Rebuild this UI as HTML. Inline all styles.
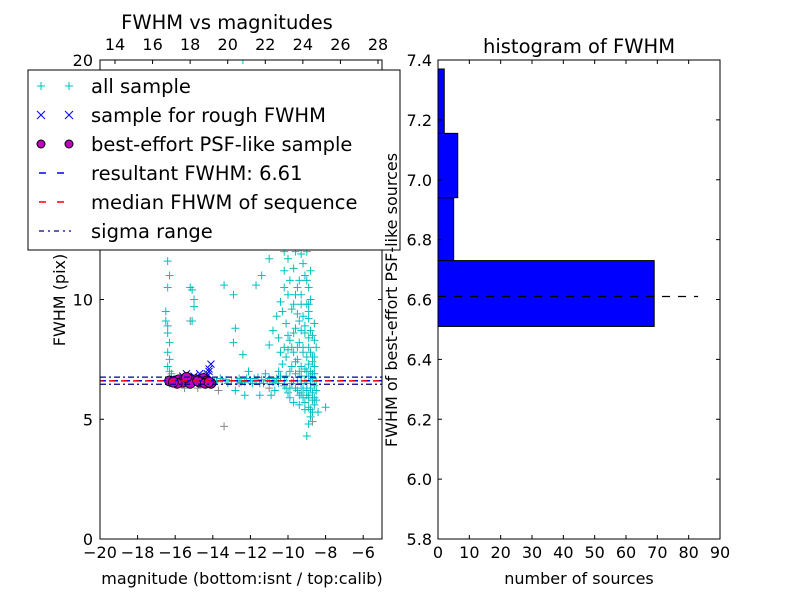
<!DOCTYPE html>
<html><head><meta charset="utf-8"><style>
body{margin:0;background:#fff;}
svg text{font-family:"DejaVu Sans","Liberation Sans",sans-serif;}
</style></head><body>
<svg id="c" width="800" height="600" xmlns="http://www.w3.org/2000/svg"></svg>
<script>
const allSample=[[-16.4,11.6],[-16.3,11.0],[-16.4,10.5],[-16.5,9.5],[-16.5,9.1],[-16.4,8.6],[-16.3,8.2],[-16.4,7.8],[-16.3,7.5],[-16.4,7.2],[-16.2,6.9],[-16.4,8.9],[-16.3,7.0],[-15.1,10.4],[-15.0,10.0],[-15.0,9.7],[-15.1,9.1],[-15.2,10.5],[-13.4,10.6],[-12.9,10.2],[-12.8,8.8],[-12.9,8.2],[-12.4,7.7],[-12.1,7.0],[-12.6,6.7],[-11.8,6.7],[-11.5,6.5],[-11.2,6.9],[-11.0,6.7],[-10.7,6.6],[-10.4,6.8],[-13.5,6.6],[-13.0,6.6],[-12.3,6.55],[-12.0,6.6],[-11.7,6.6],[-11.4,6.65],[-13.2,6.5],[-12.8,6.2],[-12.3,6.0],[-10.9,6.0],[-11.5,6.0],[-10.1,6.3],[-13.8,6.6],[-13.6,6.7],[-12.7,6.6],[-12.5,6.55],[-11.9,6.5],[-11.1,6.6],[-10.8,6.55],[-10.5,6.5],[-10.2,6.6],[-13.9,6.55],[-13.3,6.65],[-12.2,6.7],[-11.6,6.75],[-11.3,6.5],[-10.6,6.7],[-12.4,20.0],[-11.3,13.8],[-12.1,12.5],[-11.7,10.6],[-11.0,11.7],[-10.2,11.2],[-10.5,12.4],[-9.9,13.8],[-9.7,15.0],[-9.5,17.0],[-9.3,18.5],[-9.1,19.3],[-9.4,16.0],[-9.6,14.2],[-9.8,12.7],[-10.0,11.7],[-10.2,10.5],[-10.4,9.9],[-10.6,9.3],[-10.8,8.7],[-11.0,8.1],[-10.5,8.4],[-10.1,9.0],[-9.8,9.6],[-9.5,10.5],[-9.2,11.5],[-9.0,12.8],[-9.3,13.5],[-9.6,12.0],[-9.9,10.8],[-9.7,9.8],[-9.4,9.1],[-9.1,8.6],[-8.9,8.0],[-8.7,7.6],[-8.6,7.2],[-9.2,7.8],[-9.5,7.5],[-9.8,7.2],[-10.1,7.6],[-10.3,7.3],[-9.0,7.0],[-8.8,6.6],[-8.5,6.2],[-8.7,5.8],[-8.9,5.5],[-9.2,5.9],[-9.5,6.2],[-9.8,6.5],[-10.0,6.1],[-9.3,6.5],[-9.0,6.2],[-8.6,5.6],[-8.4,5.3],[-8.8,5.1],[-9.1,5.4],[-9.7,5.7],[-10.2,6.4],[-8.0,5.5],[-8.9,4.8],[-9.0,4.3],[-9.4,8.2],[-9.6,8.8],[-8.9,9.2],[-8.8,10.0],[-9.0,10.8],[-9.3,11.9],[-9.1,14.0],[-9.4,14.8],[-9.2,16.5],[-9.5,18.0],[-9.3,19.0],[-9.0,17.8],[-9.7,16.8],[-10.3,14.5],[-10.9,13.2],[-11.4,11.0],[-8.6,8.3],[-8.9,7.3],[-9.6,6.9],[-10.5,7.0],[-10.7,6.2],[-9.9,5.9],[-9.4,5.6],[-8.7,6.9],[-8.5,6.6],[-9.8,8.0],[-10.0,8.5],
[-9.2,15.5],[-9.3,15.0],[-9.1,15.2],[-9.2,14.5],[-9.1,13.2],[-9.2,12.4],[-9.0,12.0],[-9.1,11.0],[-9.3,10.2],[-9.0,9.8],[-8.9,9.5],[-9.2,9.3],[-9.1,8.9],[-8.8,8.7],[-8.9,8.4],[-9.2,8.0],[-9.0,7.6],[-8.8,7.8],[-8.7,7.4],[-9.3,7.2],[-9.1,7.1],[-8.9,6.8],[-8.6,6.9],[-8.8,6.3],[-9.0,6.0],[-9.2,6.3],[-8.9,5.9],[-8.7,6.1],[-9.1,5.7],[-8.6,5.9],[-8.8,5.4],[-8.5,5.8],[-9.3,6.8],[-9.4,7.0],[-9.6,7.4],[-9.7,7.8],[-9.5,8.0],[-9.9,8.3],[-9.7,8.6],[-9.3,8.7],[-9.5,9.4],[-9.3,9.8],[-9.6,10.2],[-9.4,10.8],[-9.7,11.3],[-9.4,12.2],[-9.5,12.8],[-9.4,13.2],[-9.2,13.8],[-9.5,13.9],[-9.3,14.2],[-9.4,17.5],[-9.2,17.2],[-9.3,16.2],[-9.6,15.6],[-10.0,12.5],[-10.2,12.0],[-10.0,10.2],[-10.3,9.5],[-10.2,8.0],[-10.0,7.9],[-10.4,7.8],[-9.9,7.0],[-9.7,6.6],[-9.5,6.6],[-9.6,6.3],[-9.9,6.3],[-10.1,6.8],[-8.7,5.3],[-8.9,6.0],[-9.4,6.0],[-8.6,6.4],[-8.8,7.0],[-9.0,6.5],[-8.7,6.7],[-9.1,6.6],[-9.3,6.1],[-8.6,7.6],[-8.5,8.0],[-8.7,8.5],[-8.6,9.0],[-8.9,9.8],[-8.8,11.2],[-8.9,10.5]];
const graySample=[[-16.3,6.5],[-15.5,6.3],[-14.8,6.3],[-15.2,9.1],[-13.4,4.7],[-13.7,6.2],[-12.6,6.5],[-8.7,4.9],[-11.0,6.3]];
const roughSample=[[-15.6,6.8],[-15.4,6.9],[-15.0,6.8],[-14.7,6.9],[-14.3,6.9],[-14.2,7.1],[-14.1,7.3],[-14.3,6.8],[-14.6,6.7],[-14.2,7.0],[-15.2,6.7]];
const psfSample=[[-16.3,6.6],[-16.0,6.6],[-15.8,6.65],[-15.5,6.6],[-15.3,6.7],[-15.1,6.6],[-14.9,6.65],[-14.7,6.55],[-14.5,6.7],[-14.3,6.6],[-14.1,6.5],[-15.6,6.55],[-15.2,6.5],[-14.8,6.6],[-15.9,6.5],[-15.4,6.75],[-14.4,6.5],[-14.2,6.55],[-16.1,6.55]];
const resultFWHM=6.61, medianFWHM=6.6, sigmaLow=6.46, sigmaHigh=6.76;
const binEdges=[6.51,6.73,6.94,7.155,7.37];
const binCounts=[69,5,6.3,2];
const leftXTicks=[-20,-18,-16,-14,-12,-10,-8,-6];
const topXTicks=[14,16,18,20,22,24,26,28];
const leftYTicks=[0,5,10,15,20];
const rightXTicks=[0,10,20,30,40,50,60,70,80,90];
const rightYTicks=[5.8,6.0,6.2,6.4,6.6,6.8,7.0,7.2,7.4];

const svg=document.getElementById('c');const NS='http://www.w3.org/2000/svg';
function mk(t,a,p){const e=document.createElementNS(NS,t);for(const k in a)e.setAttribute(k,a[k]);(p||svg).appendChild(e);return e;}
function txt(s,x,y,size,anchor,p){const e=mk('text',{x:x,y:y,'font-size':size,'text-anchor':anchor||'middle'},p);e.textContent=s;return e;}
const L={x0:100,x1:382,y0:60,y1:539};
const lx=v=>L.x0+(v+20)/15*(L.x1-L.x0);
const tx=v=>115+(v-14)/14*(378-115);
const ly=v=>L.y1-v/20*(L.y1-L.y0);
const gL=mk('g',{});

mk('rect',{x:L.x0,y:L.y0,width:L.x1-L.x0,height:L.y1-L.y0,fill:'#fff',stroke:'none'},gL);
mk('clipPath',{id:'cl'},gL).appendChild(document.createElementNS(NS,'rect'));
const cr=svg.querySelector('#cl rect');cr.setAttribute('x',L.x0);cr.setAttribute('y',L.y0);cr.setAttribute('width',L.x1-L.x0);cr.setAttribute('height',L.y1-L.y0);
const pts=mk('g',{'clip-path':'url(#cl)'},gL);
graySample.forEach(p=>{const x=lx(p[0]),y=ly(p[1]);mk('path',{d:`M${x-4} ${y}H${x+4}M${x} ${y-4}V${y+4}`,stroke:'#888','stroke-width':1},pts);});
allSample.forEach(p=>{const x=lx(p[0]),y=ly(p[1]);const e=mk('path',{d:`M${x-4} ${y}H${x+4}M${x} ${y-4}V${y+4}`,stroke:'#00bfbf','stroke-width':1},pts);});
roughSample.forEach(p=>{const x=lx(p[0]),y=ly(p[1]);mk('path',{d:`M${x-3.5} ${y-3.5}L${x+3.5} ${y+3.5}M${x-3.5} ${y+3.5}L${x+3.5} ${y-3.5}`,stroke:'#0000ff','stroke-width':1},pts);});
psfSample.forEach(p=>{const c=mk('circle',{cx:lx(p[0]),cy:ly(p[1]),r:5,fill:'#bf00bf',stroke:'#000','stroke-width':0.8},pts);});
[sigmaLow,sigmaHigh].forEach(v=>mk('line',{x1:L.x0,x2:L.x1,y1:ly(v),y2:ly(v),stroke:'#00008b','stroke-width':1.2,'stroke-dasharray':'6 3 2 3'},pts));
mk('line',{x1:L.x0,x2:L.x1,y1:ly(resultFWHM),y2:ly(resultFWHM),stroke:'#0000ff','stroke-width':1.5,'stroke-dasharray':'6 6'},pts);
mk('line',{x1:L.x0,x2:L.x1,y1:ly(medianFWHM),y2:ly(medianFWHM),stroke:'#ff0000','stroke-width':1.5,'stroke-dasharray':'6 6','stroke-dashoffset':3},pts);
mk('rect',{x:L.x0,y:L.y0,width:L.x1-L.x0,height:L.y1-L.y0,fill:'none',stroke:'#000'},gL);
leftXTicks.forEach(v=>{const x=lx(v);mk('line',{x1:x,x2:x,y1:L.y1,y2:L.y1-4,stroke:'#000'},gL);txt(v<0?'\u2212'+(-v):String(v),x,558,16,'middle',gL);});
topXTicks.forEach(v=>{const x=tx(v);mk('line',{x1:x,x2:x,y1:L.y0,y2:L.y0+4,stroke:'#000'},gL);txt(String(v),x,50,16,'middle',gL);});
leftYTicks.forEach(v=>{const y=ly(v);mk('line',{x1:L.x0,x2:L.x0+4,y1:y,y2:y,stroke:'#000'},gL);mk('line',{x1:L.x1,x2:L.x1-4,y1:y,y2:y,stroke:'#000'},gL);txt(String(v),93,y+6,16,'end',gL);});
txt('magnitude (bottom:isnt / top:calib)',242,584,16,'middle',gL);
txt('FWHM vs magnitudes',227,29,19.5,'middle',gL);
const yl=txt('FWHM (pix)',65,300,16,'middle',gL);yl.setAttribute('transform','rotate(-90 65 300)');
const lg=mk('g',{});
mk('rect',{x:28,y:70,width:372,height:180,fill:'#fff',stroke:'#000'},lg);
const ent=[['all sample','plus'],['sample for rough FWHM','x'],['best-effort PSF-like sample','o'],['resultant FWHM: 6.61','bd'],['median FHWM of sequence','rd'],['sigma range','dd']];
ent.forEach((e,i)=>{const y=86+i*29;const g=mk('g',{},lg);
[41,69].forEach(x=>{if(e[1]=='plus')mk('path',{d:`M${x-4} ${y}H${x+4}M${x} ${y-4}V${y+4}`,stroke:'#00bfbf'},g);
else if(e[1]=='x')mk('path',{d:`M${x-4} ${y-4}L${x+4} ${y+4}M${x-4} ${y+4}L${x+4} ${y-4}`,stroke:'#0000ff'},g);
else if(e[1]=='o')mk('circle',{cx:x,cy:y,r:4,fill:'#bf00bf',stroke:'#000'},g);});
if(e[1]=='bd')mk('line',{x1:39,x2:71,y1:y,y2:y,stroke:'#0000ff','stroke-width':1.5,'stroke-dasharray':'7 11'},g);
if(e[1]=='rd')mk('line',{x1:39,x2:71,y1:y,y2:y,stroke:'#ff0000','stroke-width':1.5,'stroke-dasharray':'7 11'},g);
if(e[1]=='dd')mk('line',{x1:39,x2:71,y1:y,y2:y,stroke:'#00008b','stroke-width':1.2,'stroke-dasharray':'5 4 2 4'},g);
txt(e[0],91,y+7,19.5,'start',g);});
const R={x0:438,x1:720,y0:60,y1:539};
const rx=v=>R.x0+v/90*(R.x1-R.x0);
const ry=v=>R.y1-(v-5.8)/1.6*(R.y1-R.y0);
const gR=mk('g',{});
mk('rect',{x:R.x0,y:R.y0,width:R.x1-R.x0,height:R.y1-R.y0,fill:'#fff',stroke:'none'},gR);
binCounts.forEach((c,i)=>{const y1=ry(binEdges[i+1]),y2=ry(binEdges[i]);const b=mk('rect',{x:R.x0,y:y1,width:rx(c)-R.x0,height:y2-y1,fill:'#0000ff',stroke:'#000','stroke-width':1},gR);});
mk('line',{x1:R.x0,x2:rx(83),y1:ry(resultFWHM),y2:ry(resultFWHM),stroke:'#000','stroke-width':1.2,'stroke-dasharray':'8 8'},gR);
mk('rect',{x:R.x0,y:R.y0,width:R.x1-R.x0,height:R.y1-R.y0,fill:'none',stroke:'#000'},gR);
rightXTicks.forEach(v=>{const x=rx(v);mk('line',{x1:x,x2:x,y1:R.y1,y2:R.y1-4,stroke:'#000'},gR);mk('line',{x1:x,x2:x,y1:R.y0,y2:R.y0+4,stroke:'#000'},gR);txt(String(v),x,558,16,'middle',gR);});
rightYTicks.forEach(v=>{const y=ry(v);mk('line',{x1:R.x0,x2:R.x0+4,y1:y,y2:y,stroke:'#000'},gR);mk('line',{x1:R.x1,x2:R.x1-4,y1:y,y2:y,stroke:'#000'},gR);txt(v.toFixed(1),432,y+6,16,'end',gR);});
txt('number of sources',579,584,16,'middle',gR);
txt('histogram of FWHM',579,53,19.5,'middle',gR);
const yr=txt('FWHM of best-effort PSF-like sources',397,300,16,'middle',gR);yr.setAttribute('transform','rotate(-90 397 300)');
</script>
</body></html>
